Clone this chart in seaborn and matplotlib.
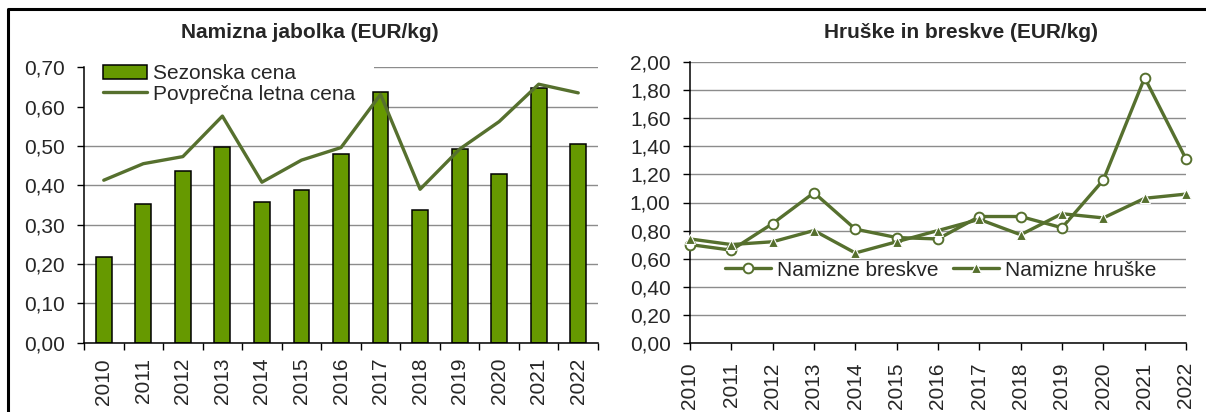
import numpy as np
import pandas as pd
import matplotlib
matplotlib.use("Agg")
import matplotlib.pyplot as plt
import seaborn as sns
from matplotlib.lines import Line2D
from matplotlib.ticker import FuncFormatter

# ==============================
# Data
# ==============================

years = [2010, 2011, 2012, 2013, 2014, 2015, 2016, 2017, 2018, 2019, 2020, 2021, 2022]

sezonska_cena = [0.217, 0.353, 0.437, 0.497, 0.357, 0.388, 0.479, 0.636, 0.338, 0.492, 0.430, 0.647, 0.505]
povprecna_cena = [0.413, 0.455, 0.473, 0.576, 0.408, 0.464, 0.496, 0.631, 0.390, 0.492, 0.562, 0.657, 0.635]

breskve = [0.70, 0.66, 0.85, 1.07, 0.81, 0.75, 0.74, 0.90, 0.90, 0.82, 1.16, 1.89, 1.31]
hruske = [0.74, 0.70, 0.72, 0.80, 0.64, 0.72, 0.80, 0.88, 0.77, 0.92, 0.89, 1.03, 1.06]

left_title = "Namizna jabolka (EUR/kg)"
right_title = "Hruške in breskve (EUR/kg)"

bar_color = "#669900"
line_color = "#56702e"
grid_color = "#8c8c8c"

df_left = pd.DataFrame({
    "leto": [str(y) for y in years],
    "sezonska": sezonska_cena,
    "povprecna": povprecna_cena,
})
df_right = pd.DataFrame({"leto": years, "breskve": breskve, "hruske": hruske})

# ==============================
# Style
# ==============================

sns.set_theme(style="white")
plt.rcParams["font.family"] = ["Liberation Sans", "DejaVu Sans"]

fs = 15
comma = FuncFormatter(lambda v, p: f"{v:.2f}".replace(".", ","))

fig = plt.figure(figsize=(12.06, 4.12), dpi=100)
ax1 = fig.add_axes([84 / 1206, 69.3 / 412, 514 / 1206, 275.4 / 412])
ax2 = fig.add_axes([690 / 1206, 69.3 / 412, 496 / 1206, 280.4 / 412])

# ==============================
# Left chart: apples
# ==============================

sns.barplot(data=df_left, x="leto", y="sezonska", color=bar_color, saturation=1,
            width=0.4, edgecolor="black", linewidth=1.1, label="Sezonska cena",
            ax=ax1, zorder=2)
sns.lineplot(data=df_left, x="leto", y="povprecna", color=line_color, linewidth=2.4,
             sort=False, label="Povprečna letna cena", ax=ax1, zorder=3)

ax1.set_xlim(-0.5, 12.5)
ax1.set_ylim(0, 0.70)
ax1.set_yticks(np.arange(0, 0.71, 0.1))
ax1.yaxis.set_major_formatter(comma)
ax1.set_xticks(np.arange(-0.5, 13, 1), minor=True)
ax1.tick_params(axis="x", which="major", length=0, pad=11, labelsize=fs, labelrotation=90)
ax1.tick_params(axis="x", which="minor", bottom=True, length=5, width=1, color="black")
ax1.tick_params(axis="y", left=True, length=5, width=1, color="black", pad=9, labelsize=fs)

h, l = ax1.get_legend_handles_labels()
order = [l.index("Sezonska cena"), l.index("Povprečna letna cena")]
leg1 = ax1.legend([h[i] for i in order], [l[i] for i in order],
                  loc="center left", bbox_to_anchor=(84 / 1206, 1 - 84 / 412),
                  bbox_transform=fig.transFigure, fontsize=fs, frameon=True,
                  facecolor="white", edgecolor="none", framealpha=1, fancybox=False,
                  borderpad=0.9, borderaxespad=0, handlelength=2.1, handletextpad=0.3,
                  labelspacing=0.05)
# white box hides only the gridline, not the spine or the marks
leg1.set_zorder(1)

# ==============================
# Right chart: pears and peaches
# ==============================

sns.lineplot(data=df_right, x="leto", y="breskve", color=line_color, linewidth=2.4,
             marker="o", markersize=7, markerfacecolor="white",
             markeredgecolor=line_color, markeredgewidth=1.4,
             label="Namizne breskve", ax=ax2, clip_on=False, zorder=3)
sns.lineplot(data=df_right, x="leto", y="hruske", color=line_color, linewidth=2.4,
             marker="^", markersize=6.5, markerfacecolor=line_color,
             markeredgecolor="white", markeredgewidth=0.8,
             label="Namizne hruške", ax=ax2, clip_on=False, zorder=4)

ax2.set_xlim(2010, 2022)
ax2.set_ylim(0, 2.0)
ax2.set_yticks(np.arange(0, 2.01, 0.2))
ax2.yaxis.set_major_formatter(comma)
ax2.set_xticks(years)
ax2.set_xticklabels([str(y) for y in years])
ax2.tick_params(axis="x", bottom=True, length=5, width=1, color="black", pad=9,
                labelsize=fs, labelrotation=90)
ax2.tick_params(axis="y", left=True, length=5, width=1, color="black", pad=9, labelsize=fs)

ax2.legend(loc="center left", bbox_to_anchor=(725 / 1206, 1 - 270 / 412),
           bbox_transform=fig.transFigure, fontsize=fs, frameon=False, ncol=2,
           borderpad=0, borderaxespad=0, handlelength=2.2, handletextpad=0.3,
           columnspacing=0.7)

for ax in (ax1, ax2):
    ax.set_xlabel("")
    ax.set_ylabel("")
    ax.yaxis.grid(True, color=grid_color, linewidth=1.0, zorder=0.5)
    ax.set_axisbelow(True)
    for side in ("top", "right"):
        ax.spines[side].set_visible(False)
    for side in ("left", "bottom"):
        ax.spines[side].set_color("black")
        ax.spines[side].set_linewidth(1.1)

# ==============================
# Titles and outer frame
# ==============================

fig.text(310 / 1206, 1 - 33 / 412, left_title, ha="center", va="center",
         fontsize=15, fontweight="bold")
fig.text(961 / 1206, 1 - 33 / 412, right_title, ha="center", va="center",
         fontsize=15, fontweight="bold")

fig.add_artist(Line2D([8 / 1206, 8 / 1206, 1.0], [0, 1 - 9 / 412, 1 - 9 / 412],
                      transform=fig.transFigure, color="black", linewidth=2.2))

fig.savefig("out.png", dpi=100)
